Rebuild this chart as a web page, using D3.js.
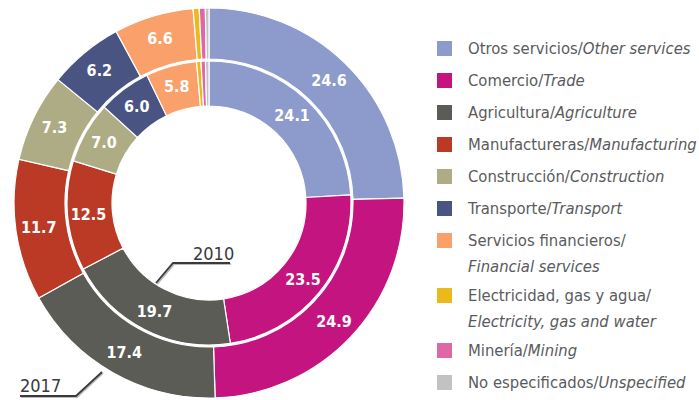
<!DOCTYPE html>
<html>
<head>
<meta charset="utf-8">
<title>Estructura por sector</title>
<script src="https://d3js.org/d3.v7.min.js"></script>
<style>
  body { margin: 0; background: #fff; }
  svg text { font-family: "Liberation Sans Narrow", "DejaVu Sans Condensed", "Arial Narrow", sans-serif; }
  .val { fill: #fff; font-weight: bold; font-size: 16px; }
  .leg { fill: #5a5b5d; font-size: 16.5px; }
  .yr { fill: #3a3a3a; font-size: 18px; }
</style>
</head>
<body>
<svg id="chart" width="699" height="400"></svg>
<script>
// sectors, clockwise from 12 o'clock
const sectoresEs = ["Otros servicios", "Comercio", "Agricultura", "Manufactureras", "Construcción",
  "Transporte", "Servicios financieros", "Electricidad, gas y agua", "Minería", "No especificados"];
const sectoresEn = ["Other services", "Trade", "Agriculture", "Manufacturing", "Construction",
  "Transport", "Financial services", "Electricity, gas and water", "Mining", "Unspecified"];
const valores2010 = [24.1, 23.5, 19.7, 12.5, 7.0, 6.0, 5.8, 0.5, 0.5, 0.4];
const valores2017 = [24.6, 24.9, 17.4, 11.7, 7.3, 6.2, 6.6, 0.5, 0.5, 0.3];
const colores = ["#8c9bcb", "#c4147f", "#5b5c55", "#bb3a26", "#aeac85",
  "#4a5483", "#f9a06b", "#ebba1a", "#df67a6", "#c2c2c2"];
// legend entries that wrap onto two lines
const legendaDosLineas = [false, false, false, false, false, false, true, true, false, false];

const svg = d3.select("#chart");
const cx = 209, cy = 203;

const pie = d3.pie().sort(null).value(d => d.v);
const color = d3.scaleOrdinal().domain(sectoresEs).range(colores);

function anillo(valores, r0, r1, rLabel) {
  const data = valores.map((v, i) => ({ k: sectoresEs[i], v: v }));
  const arc = d3.arc().innerRadius(r0).outerRadius(r1);
  const labelArc = d3.arc().innerRadius(rLabel).outerRadius(rLabel);
  const g = svg.append("g").attr("transform", "translate(" + cx + "," + cy + ")");
  const arcs = pie(data);
  g.selectAll("path")
    .data(arcs)
    .enter().append("path")
    .attr("d", arc)
    .attr("fill", d => color(d.data.k))
    .attr("stroke", "#fff")
    .attr("stroke-width", 1.2);
  g.selectAll("text")
    .data(arcs.filter(d => d.data.v >= 2))
    .enter().append("text")
    .attr("class", "val")
    .attr("text-anchor", "middle")
    .attr("dy", "0.36em")
    .attr("transform", d => "translate(" + labelArc.centroid(d) + ")")
    .text(d => d3.format(".1f")(d.data.v));
}

anillo(valores2010, 97, 142, 121);
anillo(valores2017, 144, 195, 172);

// year call-outs
function llamada(texto, tx, ty, pts) {
  svg.append("path")
    .attr("d", d3.line()(pts))
    .attr("fill", "none")
    .attr("stroke", "#bbb")
    .attr("stroke-width", 2)
    .attr("transform", "translate(1,1)");
  svg.append("path")
    .attr("d", d3.line()(pts))
    .attr("fill", "none")
    .attr("stroke", "#3a3a3a")
    .attr("stroke-width", 1.8);
  svg.append("text").attr("class", "yr").attr("x", tx).attr("y", ty).text(texto);
}
llamada("2010", 193, 260, [[156, 283], [173, 263], [230, 263]]);
llamada("2017", 20, 392, [[102, 372], [76, 396], [20, 396]]);

// legend
const leg = svg.append("g").attr("transform", "translate(437,0)");
let y = 48;
sectoresEs.forEach((s, i) => {
  const row = leg.append("g").attr("transform", "translate(0," + y + ")");
  row.append("rect").attr("x", 0).attr("y", -7).attr("width", 15).attr("height", 15)
    .attr("fill", colores[i]);
  const t = row.append("text").attr("class", "leg").attr("x", 31).attr("dy", "0.35em");
  if (legendaDosLineas[i]) {
    t.append("tspan").text(s + "/");
    row.append("text").attr("class", "leg").attr("x", 31).attr("y", 26).attr("dy", "0.35em")
      .style("font-style", "italic").text(sectoresEn[i]);
    y += 55;
  } else {
    t.append("tspan").text(s + "/");
    t.append("tspan").style("font-style", "italic").text(sectoresEn[i]);
    y += i === 7 ? 30 : 32;
  }
});
</script>
</body>
</html>
